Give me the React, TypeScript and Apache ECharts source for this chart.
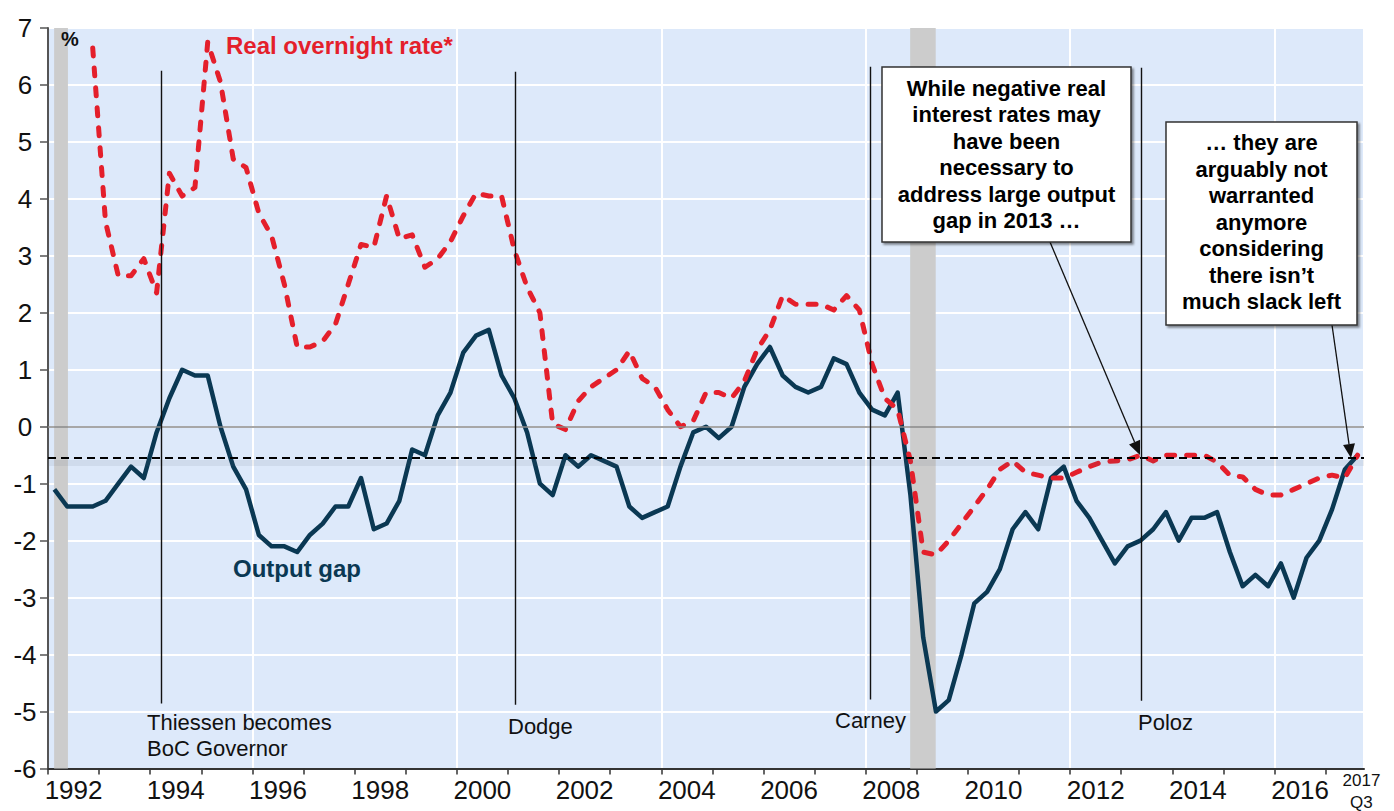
import React, { useEffect, useRef } from "react";
import * as echarts from "echarts";

// ---------- DATA ----------
const firstYear = 1992; // first quarter = 1992Q1
const outputGap = [
  -1.1, -1.4, -1.4, -1.4, -1.3, -1.0, -0.7, -0.9, -0.1, 0.5, 1.0, 0.9, 0.9, 0.0, -0.7, -1.1,
  -1.9, -2.1, -2.1, -2.2, -1.9, -1.7, -1.4, -1.4, -0.9, -1.8, -1.7, -1.3, -0.4, -0.5, 0.2, 0.6,
  1.3, 1.6, 1.7, 0.9, 0.5, -0.1, -1.0, -1.2, -0.5, -0.7, -0.5, -0.6, -0.7, -1.4, -1.6, -1.5,
  -1.4, -0.7, -0.1, 0.0, -0.2, 0.0, 0.7, 1.1, 1.4, 0.9, 0.7, 0.6, 0.7, 1.2, 1.1, 0.6, 0.3, 0.2,
  0.6, -1.2, -3.7, -5.0, -4.8, -4.0, -3.1, -2.9, -2.5, -1.8, -1.5, -1.8, -0.9, -0.7, -1.3, -1.6,
  -2.0, -2.4, -2.1, -2.0, -1.8, -1.5, -2.0, -1.6, -1.6, -1.5, -2.2, -2.8, -2.6, -2.8, -2.4, -3.0,
  -2.3, -2.0, -1.45, -0.75, -0.5,
];
const realRate = [
  null, null, null, 6.65, 3.6, 2.65, 2.65, 2.95, 2.35, 4.45, 4.05, 4.2, 6.75, 6.05, 4.7, 4.55,
  3.75, 3.35, 2.5, 1.4, 1.4, 1.5, 1.8, 2.5, 3.2, 3.15, 4.05, 3.3, 3.37, 2.8, 2.95, 3.25,
  3.7, 4.1, 4.05, 4.05, 3.1, 2.45, 2.0, 0.05, -0.05, 0.45, 0.7, 0.85, 1.0, 1.33, 0.85, 0.7,
  0.3, 0.0, 0.1, 0.6, 0.6, 0.5, 0.8, 1.35, 1.7, 2.3, 2.15, 2.15, 2.15, 2.05, 2.3, 2.05, 1.1, 0.5,
  0.3, -0.6, -2.2, -2.25, -2.0, -1.7, -1.4, -1.1, -0.75, -0.6, -0.8, -0.85, -0.9, -0.9, -0.8, -0.7,
  -0.62, -0.6, -0.58, -0.5, -0.6, -0.5, -0.5, -0.5, -0.5, -0.62, -0.85, -0.88, -1.1, -1.2, -1.2, -1.1,
  -1.0, -0.9, -0.85, -0.9, -0.5,
];
const neutralLevel = -0.55;
const recessions = [
  [1992.12, 1992.39],
  [2008.87, 2009.37],
];
const governorNames = ["Thiessen becomes\nBoC Governor", "Dodge", "Carney", "Poloz"];
const governorDates = [1994.21, 2001.15, 2008.09, 2013.4];
const xTickLabels = ["1992", "1994", "1996", "1998", "2000", "2002", "2004", "2006", "2008", "2010", "2012", "2014", "2016"];
const lastLabel = "2017\nQ3";
const yMin = -6;
const yMax = 7;

// ---------- LAYOUT / STYLE ----------
const FONT = '"Liberation Sans", Arial, Helvetica, sans-serif';
const RED = "#e41f2b";
const NAVY = "#0a3853";
const BG = "#dde9fa";
const govLineTop = [6.25, 6.23, 6.32, 6.3];
const govLineBottom = [-4.86, -4.88, -4.79, -4.81];
const govLabelPos = [
  [147, 709],
  [508, 713],
  [835, 707],
  [1138, 709],
];
const glowOffset = 0.09;

const quarterX = (i: number) => firstYear + (i + 0.5) / 4;

function arrow(x1: number, y1: number, x2: number, y2: number) {
  const dx = x2 - x1;
  const dy = y2 - y1;
  const len = Math.sqrt(dx * dx + dy * dy);
  const ux = dx / len;
  const uy = dy / len;
  const hl = 14;
  const hw = 6;
  const bx = x2 - ux * hl;
  const by = y2 - uy * hl;
  return [
    {
      type: "line",
      shape: { x1, y1, x2: bx, y2: by },
      style: { stroke: "#111", lineWidth: 1.3 },
      z: 20,
    },
    {
      type: "polygon",
      shape: {
        points: [
          [x2, y2],
          [bx - uy * hw, by + ux * hw],
          [bx + uy * hw, by - ux * hw],
        ],
      },
      style: { fill: "#111" },
      z: 20,
    },
  ];
}

function boxText(cx: number, top: number, text: string) {
  return {
    type: "text",
    x: cx,
    y: top,
    z: 22,
    style: {
      text,
      fill: "#000",
      fontFamily: FONT,
      fontSize: 22,
      fontWeight: "bold",
      lineHeight: 26.5,
      align: "center",
      verticalAlign: "top",
    },
  };
}

export default function App() {
  const ref = useRef<HTMLDivElement>(null);

  useEffect(() => {
    if (!ref.current) return;
    const chart = echarts.init(ref.current, undefined, { renderer: "svg" });

    const gapData = outputGap.map((v, i) => [quarterX(i), v]);
    const rateData = realRate
      .map((v, i) => (v === null ? null : [quarterX(i), v]))
      .filter((d) => d !== null);

    const tickYears: number[] = [];
    for (let y = 1992; y <= 2017; y++) tickYears.push(y);
    const labelValues = xTickLabels.map((l) => Number(l) + 0.5).concat([2017.7]);

    const govLines = governorDates.map((d, i) => [
      { coord: [d, govLineTop[i]] },
      { coord: [d, govLineBottom[i]] },
    ]);

    const option: any = {
      animation: false,
      backgroundColor: "#ffffff",
      grid: {
        left: 48,
        right: 30,
        top: 28,
        bottom: 42,
        show: true,
        backgroundColor: BG,
        borderWidth: 0,
      },
      xAxis: [
        {
          type: "value",
          min: 1992,
          max: 2017.75,
          interval: 1,
          axisLine: { show: true, onZero: false, lineStyle: { color: "#333", width: 2 } },
          axisTick: {
            show: true,
            length: 6,
            customValues: tickYears,
            lineStyle: { color: "#333", width: 1.5 },
          },
          axisLabel: {
            show: true,
            customValues: labelValues,
            margin: 1,
            formatter: (v: number) => {
              if (v > 2017.5) return lastLabel.split("\n").map((s) => "{b|" + s + "}").join("\n");
              return "{a|" + String(Math.floor(v)) + "}";
            },
            rich: {
              a: { fontSize: 26, fontFamily: FONT, color: "#111", lineHeight: 40 },
              b: { fontSize: 17, fontFamily: FONT, color: "#111", lineHeight: 22 },
            },
          },
          splitLine: { show: false },
        },
        {
          type: "value",
          min: 1992,
          max: 2017.75,
          interval: 4,
          position: "bottom",
          axisLine: { show: false },
          axisTick: { show: false },
          axisLabel: { show: false },
          splitLine: { show: true, lineStyle: { color: "#ffffff", width: 2 } },
        },
      ],
      yAxis: {
        type: "value",
        min: yMin,
        max: yMax,
        interval: 1,
        axisLine: { show: true, lineStyle: { color: "#555", width: 2 } },
        axisTick: { show: true, length: 8, lineStyle: { color: "#555", width: 1.5 } },
        axisLabel: {
          fontSize: 26,
          fontFamily: FONT,
          color: "#111",
          align: "center",
          margin: 23,
        },
        splitLine: { show: true, lineStyle: { color: "#ffffff", width: 2 } },
      },
      series: [
        {
          name: "recessions",
          type: "line",
          data: [],
          z: 1,
          silent: true,
          markArea: {
            silent: true,
            itemStyle: { color: "#cccccc" },
            data: recessions.map((r) => [{ xAxis: r[0] }, { xAxis: r[1] }]),
          },
        },
        {
          name: "glow",
          type: "line",
          data: [],
          z: 2,
          silent: true,
          markLine: {
            silent: true,
            symbol: ["none", "none"],
            label: { show: false },
            lineStyle: { color: "rgba(90,100,120,0.10)", width: 6, type: "solid" },
            data: [{ yAxis: neutralLevel - glowOffset }],
          },
        },
        {
          name: "zero",
          type: "line",
          data: [],
          z: 2,
          silent: true,
          markLine: {
            silent: true,
            symbol: ["none", "none"],
            label: { show: false },
            lineStyle: { color: "#8a8a8a", width: 1.5, type: "solid" },
            data: [{ yAxis: 0 }],
          },
        },
        {
          name: "neutral",
          type: "line",
          data: [],
          z: 2,
          silent: true,
          markLine: {
            silent: true,
            symbol: ["none", "none"],
            label: { show: false },
            lineStyle: { color: "#000000", width: 2, type: [8, 5] },
            data: [{ yAxis: neutralLevel }],
          },
        },
        {
          name: "governors",
          type: "line",
          data: [],
          z: 2,
          silent: true,
          markLine: {
            silent: true,
            symbol: ["none", "none"],
            label: { show: false },
            lineStyle: { color: "#111", width: 1.4, type: "solid" },
            data: govLines,
          },
        },
        {
          name: "Output gap",
          type: "line",
          data: gapData,
          z: 3,
          symbol: "none",
          lineStyle: { color: NAVY, width: 4.5, join: "round" },
          silent: true,
        },
        {
          name: "Real overnight rate*",
          type: "line",
          data: rateData,
          z: 4,
          symbol: "none",
          lineStyle: { color: RED, width: 5, type: [8, 12], cap: "round", join: "round" },
          silent: true,
        },
      ],
      graphic: [
        {
          type: "text",
          x: 70,
          y: 39,
          z: 20,
          style: {
            text: "%",
            fill: "#111",
            fontFamily: FONT,
            fontSize: 20,
            fontWeight: "bold",
            align: "center",
            verticalAlign: "middle",
          },
        },
        {
          type: "text",
          x: 226,
          y: 45,
          z: 20,
          style: {
            text: "Real overnight rate*",
            fill: RED,
            fontFamily: FONT,
            fontSize: 24,
            fontWeight: "bold",
            align: "left",
            verticalAlign: "middle",
          },
        },
        {
          type: "text",
          x: 233,
          y: 568,
          z: 20,
          style: {
            text: "Output gap",
            fill: NAVY,
            fontFamily: FONT,
            fontSize: 24,
            fontWeight: "bold",
            align: "left",
            verticalAlign: "middle",
          },
        },
        ...governorNames.map((n, i) => ({
          type: "text",
          x: govLabelPos[i][0],
          y: govLabelPos[i][1],
          z: 20,
          style: {
            text: n,
            fill: "#111",
            fontFamily: FONT,
            fontSize: 22,
            lineHeight: 26.5,
            align: "left",
            verticalAlign: "top",
          },
        })),
        ...arrow(1050, 242, 1140, 455),
        ...arrow(1332, 325, 1351, 458),
        {
          type: "rect",
          shape: { x: 882, y: 67, width: 249, height: 175 },
          z: 21,
          style: {
            fill: "#ffffff",
            stroke: "#333",
            lineWidth: 1.5,
            shadowColor: "rgba(0,0,0,0.45)",
            shadowBlur: 2,
            shadowOffsetX: 2,
            shadowOffsetY: 2,
          },
        },
        boxText(
          1006.5,
          75,
          "While negative real\ninterest rates may\nhave been\nnecessary to\naddress large output\ngap in 2013 \u2026"
        ),
        {
          type: "rect",
          shape: { x: 1166, y: 122, width: 191, height: 203 },
          z: 21,
          style: {
            fill: "#ffffff",
            stroke: "#333",
            lineWidth: 1.5,
            shadowColor: "rgba(0,0,0,0.45)",
            shadowBlur: 2,
            shadowOffsetX: 2,
            shadowOffsetY: 2,
          },
        },
        boxText(
          1261.5,
          129.5,
          "\u2026 they are\narguably not\nwarranted\nanymore\nconsidering\nthere isn\u2019t\nmuch slack left"
        ),
      ],
    };

    chart.setOption(option);
    return () => {
      chart.dispose();
    };
  }, []);

  return (
    <div
      ref={ref}
      style={{ position: "fixed", left: 0, top: 0, width: 1394, height: 811, background: "#fff" }}
    />
  );
}
